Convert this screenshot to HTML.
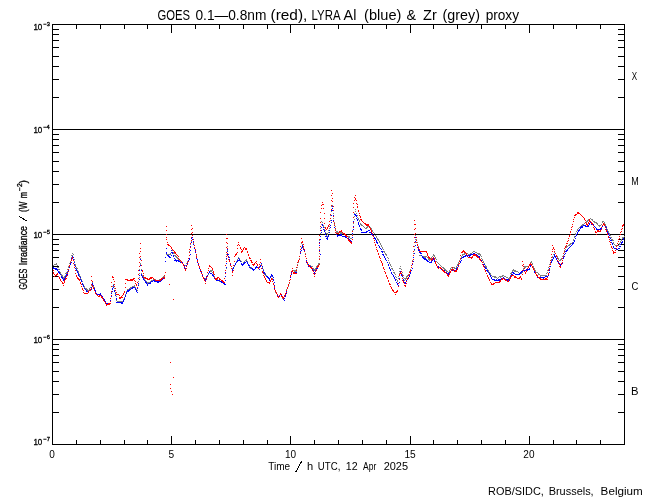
<!DOCTYPE html>
<html><head><meta charset="utf-8"><style>html,body{margin:0;padding:0;background:#fff;width:650px;height:500px;overflow:hidden}svg{display:block;will-change:transform}text{font-family:"Liberation Sans",sans-serif}</style></head>
<body><svg width="650" height="500" viewBox="0 0 650 500">
<rect width="650" height="500" fill="#fff"/>
<g shape-rendering="crispEdges" fill="none" stroke="#000" stroke-width="1">
<rect x="52.5" y="24.5" width="572" height="420"/>
<path d="M76.5 24v5M76.5 445v-5M100.5 24v5M100.5 445v-5M124.5 24v5M124.5 445v-5M147.5 24v5M147.5 445v-5M171.5 24v9M171.5 445v-9M195.5 24v5M195.5 445v-5M219.5 24v5M219.5 445v-5M243.5 24v5M243.5 445v-5M267.5 24v5M267.5 445v-5M290.5 24v9M290.5 445v-9M314.5 24v5M314.5 445v-5M338.5 24v5M338.5 445v-5M362.5 24v5M362.5 445v-5M386.5 24v5M386.5 445v-5M410.5 24v9M410.5 445v-9M433.5 24v5M433.5 445v-5M457.5 24v5M457.5 445v-5M481.5 24v5M481.5 445v-5M505.5 24v5M505.5 445v-5M529.5 24v9M529.5 445v-9M553.5 24v5M553.5 445v-5M576.5 24v5M576.5 445v-5M600.5 24v5M600.5 445v-5M52 97.5h7M625 97.5h-7M52 79.5h7M625 79.5h-7M52 66.5h7M625 66.5h-7M52 56.5h7M625 56.5h-7M52 47.5h7M625 47.5h-7M52 40.5h7M625 40.5h-7M52 34.5h7M625 34.5h-7M52 29.5h7M625 29.5h-7M52 202.5h7M625 202.5h-7M52 184.5h7M625 184.5h-7M52 171.5h7M625 171.5h-7M52 161.5h7M625 161.5h-7M52 152.5h7M625 152.5h-7M52 145.5h7M625 145.5h-7M52 139.5h7M625 139.5h-7M52 134.5h7M625 134.5h-7M52 307.5h7M625 307.5h-7M52 289.5h7M625 289.5h-7M52 276.5h7M625 276.5h-7M52 266.5h7M625 266.5h-7M52 257.5h7M625 257.5h-7M52 250.5h7M625 250.5h-7M52 244.5h7M625 244.5h-7M52 239.5h7M625 239.5h-7M52 412.5h7M625 412.5h-7M52 394.5h7M625 394.5h-7M52 381.5h7M625 381.5h-7M52 371.5h7M625 371.5h-7M52 362.5h7M625 362.5h-7M52 355.5h7M625 355.5h-7M52 349.5h7M625 349.5h-7M52 344.5h7M625 344.5h-7M52 129.5H625M52 234.5H625M52 339.5H625"/>
</g>
<g shape-rendering="crispEdges">
<path fill="#7f7f7f" d="M332 201h1v1h-1zM332 205h1v1h-1zM331 206h1v1h-1zM355 209h1v1h-1zM333 210h1v1h-1zM331 211h1v1h-1zM355 211h1v1h-1zM333 213h1v1h-1zM354 213h1v1h-1zM356 213h1v1h-1zM330 215h1v1h-1zM357 215h1v1h-1zM354 216h1v1h-1zM357 217h1v1h-1zM333 218h1v1h-1zM358 218h1v1h-1zM590 218h1v1h-1zM354 219h1v1h-1zM358 219h1v1h-1zM588 219h2v1h-2zM591 219h2v1h-2zM330 220h1v1h-1zM359 220h1v1h-1zM587 220h3v1h-3zM592 220h1v1h-1zM321 221h1v1h-1zM359 221h1v1h-1zM586 221h2v1h-2zM593 221h2v1h-2zM602 221h2v1h-2zM322 222h1v1h-1zM334 222h1v1h-1zM585 222h2v1h-2zM594 222h3v1h-3zM602 222h1v1h-1zM604 222h1v1h-1zM353 223h1v1h-1zM360 223h1v1h-1zM584 223h1v1h-1zM596 223h2v1h-2zM604 223h1v1h-1zM321 224h2v1h-2zM334 224h1v1h-1zM360 224h2v1h-2zM582 224h2v1h-2zM597 224h1v1h-1zM601 224h1v1h-1zM605 224h1v1h-1zM323 225h1v1h-1zM330 225h1v1h-1zM361 225h2v1h-2zM581 225h2v1h-2zM598 225h3v1h-3zM605 225h1v1h-1zM323 226h1v1h-1zM329 226h1v1h-1zM335 226h1v1h-1zM353 226h1v1h-1zM363 226h1v1h-1zM367 226h3v1h-3zM580 226h1v1h-1zM599 226h1v1h-1zM606 226h1v1h-1zM324 227h1v1h-1zM364 227h1v1h-1zM366 227h2v1h-2zM370 227h1v1h-1zM579 227h2v1h-2zM320 228h1v1h-1zM329 228h1v1h-1zM335 228h1v1h-1zM365 228h2v1h-2zM371 228h1v1h-1zM578 228h1v1h-1zM606 228h1v1h-1zM324 229h1v1h-1zM335 229h1v1h-1zM371 229h1v1h-1zM577 229h1v1h-1zM607 229h1v1h-1zM325 230h1v1h-1zM328 230h1v1h-1zM352 230h1v1h-1zM372 230h1v1h-1zM577 230h1v1h-1zM607 230h1v1h-1zM336 231h2v1h-2zM372 231h1v1h-1zM576 231h1v1h-1zM608 231h1v1h-1zM325 232h1v1h-1zM328 232h1v1h-1zM336 232h6v1h-6zM373 232h1v1h-1zM608 232h1v1h-1zM320 233h1v1h-1zM326 233h2v1h-2zM340 233h4v1h-4zM374 233h1v1h-1zM575 233h1v1h-1zM609 233h1v1h-1zM327 234h1v1h-1zM344 234h2v1h-2zM352 234h1v1h-1zM575 234h1v1h-1zM609 234h1v1h-1zM326 235h1v1h-1zM346 235h1v1h-1zM375 235h1v1h-1zM415 235h1v1h-1zM609 235h2v1h-2zM320 236h1v1h-1zM327 236h1v1h-1zM346 236h4v1h-4zM376 236h1v1h-1zM574 236h1v1h-1zM624 236h1v1h-1zM192 237h1v1h-1zM348 237h2v1h-2zM376 237h1v1h-1zM416 237h1v1h-1zM574 237h1v1h-1zM610 237h2v1h-2zM622 237h2v1h-2zM191 238h1v1h-1zM350 238h2v1h-2zM377 238h1v1h-1zM622 238h1v1h-1zM192 239h1v1h-1zM377 239h2v1h-2zM415 239h2v1h-2zM573 239h1v1h-1zM611 239h2v1h-2zM621 239h1v1h-1zM191 240h1v1h-1zM319 240h1v1h-1zM378 240h1v1h-1zM573 240h1v1h-1zM612 240h2v1h-2zM621 240h1v1h-1zM191 241h1v1h-1zM193 241h1v1h-1zM379 241h1v1h-1zM620 241h1v1h-1zM379 242h1v1h-1zM415 242h1v1h-1zM417 242h1v1h-1zM572 242h1v1h-1zM613 242h1v1h-1zM620 242h1v1h-1zM193 243h1v1h-1zM301 243h1v1h-1zM380 243h1v1h-1zM570 243h2v1h-2zM613 243h1v1h-1zM619 243h1v1h-1zM190 244h1v1h-1zM302 244h1v1h-1zM380 244h1v1h-1zM417 244h1v1h-1zM569 244h2v1h-2zM614 244h1v1h-1zM619 244h1v1h-1zM194 245h1v1h-1zM319 245h1v1h-1zM381 245h1v1h-1zM568 245h2v1h-2zM615 245h4v1h-4zM227 246h1v1h-1zM302 246h1v1h-1zM381 246h1v1h-1zM414 246h1v1h-1zM418 246h1v1h-1zM566 246h2v1h-2zM190 247h1v1h-1zM194 247h1v1h-1zM301 247h1v1h-1zM303 247h1v1h-1zM382 247h1v1h-1zM565 247h2v1h-2zM171 248h1v1h-1zM382 248h1v1h-1zM418 248h1v1h-1zM172 249h1v1h-1zM195 249h1v1h-1zM300 249h1v1h-1zM303 249h1v1h-1zM319 249h1v1h-1zM383 249h1v1h-1zM565 249h1v1h-1zM171 250h2v1h-2zM227 250h1v1h-1zM304 250h1v1h-1zM414 250h1v1h-1zM564 250h1v1h-1zM189 251h1v1h-1zM227 251h1v1h-1zM304 251h1v1h-1zM383 251h2v1h-2zM419 251h1v1h-1zM473 251h2v1h-2zM554 251h1v1h-1zM171 252h1v1h-1zM173 252h1v1h-1zM195 252h1v1h-1zM300 252h1v1h-1zM384 252h1v1h-1zM419 252h1v1h-1zM472 252h1v1h-1zM475 252h2v1h-2zM554 252h1v1h-1zM564 252h1v1h-1zM72 253h1v1h-1zM170 253h1v1h-1zM173 253h2v1h-2zM305 253h1v1h-1zM319 253h1v1h-1zM385 253h1v1h-1zM413 253h1v1h-1zM464 253h4v1h-4zM470 253h2v1h-2zM477 253h3v1h-3zM555 253h1v1h-1zM563 253h1v1h-1zM73 254h1v1h-1zM166 254h5v1h-5zM226 254h1v1h-1zM228 254h1v1h-1zM385 254h2v1h-2zM433 254h1v1h-1zM462 254h3v1h-3zM468 254h3v1h-3zM478 254h3v1h-3zM553 254h1v1h-1zM71 255h2v1h-2zM174 255h2v1h-2zM189 255h1v1h-1zM196 255h1v1h-1zM386 255h1v1h-1zM419 255h3v1h-3zM433 255h2v1h-2zM462 255h1v1h-1zM480 255h1v1h-1zM556 255h1v1h-1zM563 255h1v1h-1zM175 256h2v1h-2zM196 256h1v1h-1zM228 256h1v1h-1zM299 256h1v1h-1zM305 256h1v1h-1zM422 256h5v1h-5zM432 256h1v1h-1zM434 256h1v1h-1zM461 256h1v1h-1zM481 256h1v1h-1zM552 256h1v1h-1zM557 256h1v1h-1zM562 256h1v1h-1zM71 257h1v1h-1zM73 257h1v1h-1zM176 257h2v1h-2zM229 257h1v1h-1zM238 257h1v1h-1zM387 257h1v1h-1zM413 257h1v1h-1zM423 257h3v1h-3zM427 257h1v1h-1zM431 257h1v1h-1zM435 257h1v1h-1zM461 257h1v1h-1zM552 257h1v1h-1zM557 257h1v1h-1zM140 258h1v1h-1zM177 258h2v1h-2zM188 258h1v1h-1zM196 258h1v1h-1zM238 258h2v1h-2zM299 258h1v1h-1zM306 258h1v1h-1zM319 258h1v1h-1zM388 258h1v1h-1zM428 258h1v1h-1zM431 258h1v1h-1zM435 258h1v1h-1zM460 258h1v1h-1zM481 258h1v1h-1zM558 258h1v1h-1zM561 258h2v1h-2zM71 259h1v1h-1zM74 259h1v1h-1zM178 259h2v1h-2zM226 259h1v1h-1zM229 259h1v1h-1zM237 259h1v1h-1zM239 259h1v1h-1zM246 259h1v1h-1zM428 259h3v1h-3zM436 259h1v1h-1zM460 259h1v1h-1zM482 259h1v1h-1zM551 259h1v1h-1zM558 259h1v1h-1zM560 259h2v1h-2zM179 260h2v1h-2zM197 260h1v1h-1zM237 260h1v1h-1zM240 260h1v1h-1zM245 260h2v1h-2zM298 260h1v1h-1zM388 260h1v1h-1zM412 260h1v1h-1zM429 260h1v1h-1zM459 260h1v1h-1zM482 260h1v1h-1zM551 260h1v1h-1zM559 260h2v1h-2zM70 261h1v1h-1zM74 261h1v1h-1zM180 261h2v1h-2zM187 261h2v1h-2zM229 261h1v1h-1zM236 261h1v1h-1zM241 261h1v1h-1zM244 261h1v1h-1zM247 261h1v1h-1zM306 261h1v1h-1zM436 261h1v1h-1zM459 261h1v1h-1zM483 261h1v1h-1zM531 261h1v1h-1zM181 262h1v1h-1zM187 262h1v1h-1zM197 262h1v1h-1zM236 262h1v1h-1zM243 262h2v1h-2zM247 262h1v1h-1zM298 262h1v1h-1zM306 262h1v1h-1zM389 262h1v1h-1zM437 262h1v1h-1zM458 262h1v1h-1zM483 262h1v1h-1zM530 262h2v1h-2zM550 262h1v1h-1zM56 263h1v1h-1zM69 263h1v1h-1zM140 263h1v1h-1zM182 263h1v1h-1zM186 263h1v1h-1zM198 263h1v1h-1zM226 263h1v1h-1zM230 263h1v1h-1zM241 263h1v1h-1zM247 263h1v1h-1zM307 263h1v1h-1zM318 263h2v1h-2zM389 263h1v1h-1zM438 263h1v1h-1zM458 263h1v1h-1zM484 263h1v1h-1zM530 263h1v1h-1zM532 263h1v1h-1zM550 263h1v1h-1zM54 264h3v1h-3zM75 264h1v1h-1zM140 264h1v1h-1zM183 264h1v1h-1zM198 264h1v1h-1zM230 264h1v1h-1zM235 264h1v1h-1zM242 264h2v1h-2zM248 264h1v1h-1zM261 264h1v1h-1zM297 264h1v1h-1zM307 264h1v1h-1zM318 264h1v1h-1zM390 264h1v1h-1zM412 264h1v1h-1zM439 264h1v1h-1zM457 264h1v1h-1zM484 264h1v1h-1zM529 264h1v1h-1zM532 264h1v1h-1zM549 264h1v1h-1zM53 265h1v1h-1zM57 265h1v1h-1zM69 265h1v1h-1zM75 265h1v1h-1zM183 265h3v1h-3zM234 265h1v1h-1zM249 265h1v1h-1zM260 265h2v1h-2zM297 265h1v1h-1zM308 265h3v1h-3zM317 265h1v1h-1zM390 265h1v1h-1zM411 265h1v1h-1zM440 265h1v1h-1zM457 265h1v1h-1zM485 265h1v1h-1zM529 265h1v1h-1zM68 266h1v1h-1zM199 266h1v1h-1zM231 266h1v1h-1zM234 266h1v1h-1zM249 266h1v1h-1zM256 266h1v1h-1zM260 266h1v1h-1zM308 266h1v1h-1zM310 266h3v1h-3zM316 266h2v1h-2zM391 266h1v1h-1zM400 266h1v1h-1zM441 266h1v1h-1zM456 266h1v1h-1zM485 266h2v1h-2zM524 266h5v1h-5zM533 266h1v1h-1zM549 266h1v1h-1zM57 267h2v1h-2zM68 267h1v1h-1zM76 267h1v1h-1zM184 267h1v1h-1zM199 267h1v1h-1zM233 267h1v1h-1zM250 267h2v1h-2zM255 267h1v1h-1zM257 267h1v1h-1zM259 267h1v1h-1zM262 267h1v1h-1zM297 267h1v1h-1zM316 267h1v1h-1zM411 267h1v1h-1zM442 267h2v1h-2zM451 267h4v1h-4zM456 267h1v1h-1zM486 267h1v1h-1zM524 267h2v1h-2zM533 267h1v1h-1zM548 267h1v1h-1zM76 268h2v1h-2zM226 268h1v1h-1zM231 268h3v1h-3zM250 268h2v1h-2zM255 268h1v1h-1zM258 268h1v1h-1zM262 268h1v1h-1zM312 268h2v1h-2zM315 268h1v1h-1zM391 268h2v1h-2zM399 268h2v1h-2zM443 268h2v1h-2zM450 268h1v1h-1zM452 268h1v1h-1zM454 268h2v1h-2zM486 268h1v1h-1zM523 268h1v1h-1zM534 268h1v1h-1zM58 269h2v1h-2zM67 269h1v1h-1zM139 269h1v1h-1zM141 269h1v1h-1zM200 269h1v1h-1zM232 269h1v1h-1zM252 269h3v1h-3zM259 269h1v1h-1zM263 269h1v1h-1zM296 269h1v1h-1zM313 269h3v1h-3zM392 269h1v1h-1zM401 269h1v1h-1zM410 269h1v1h-1zM444 269h2v1h-2zM450 269h1v1h-1zM487 269h1v1h-1zM513 269h1v1h-1zM523 269h1v1h-1zM534 269h1v1h-1zM548 269h1v1h-1zM77 270h1v1h-1zM210 270h3v1h-3zM253 270h1v1h-1zM292 270h4v1h-4zM314 270h1v1h-1zM393 270h1v1h-1zM445 270h2v1h-2zM449 270h1v1h-1zM487 270h2v1h-2zM512 270h4v1h-4zM522 270h1v1h-1zM534 270h2v1h-2zM547 270h1v1h-1zM59 271h1v1h-1zM67 271h1v1h-1zM78 271h1v1h-1zM200 271h1v1h-1zM209 271h3v1h-3zM263 271h1v1h-1zM291 271h1v1h-1zM294 271h3v1h-3zM399 271h1v1h-1zM401 271h1v1h-1zM409 271h1v1h-1zM446 271h2v1h-2zM449 271h1v1h-1zM488 271h1v1h-1zM512 271h1v1h-1zM514 271h4v1h-4zM535 271h1v1h-1zM60 272h1v1h-1zM66 272h1v1h-1zM78 272h1v1h-1zM201 272h1v1h-1zM209 272h1v1h-1zM212 272h1v1h-1zM225 272h1v1h-1zM393 272h2v1h-2zM402 272h1v1h-1zM409 272h1v1h-1zM448 272h1v1h-1zM489 272h1v1h-1zM511 272h1v1h-1zM518 272h1v1h-1zM521 272h2v1h-2zM536 272h2v1h-2zM547 272h1v1h-1zM60 273h1v1h-1zM65 273h2v1h-2zM78 273h1v1h-1zM139 273h1v1h-1zM141 273h1v1h-1zM201 273h1v1h-1zM208 273h1v1h-1zM213 273h1v1h-1zM264 273h2v1h-2zM291 273h1v1h-1zM394 273h1v1h-1zM399 273h1v1h-1zM448 273h1v1h-1zM490 273h1v1h-1zM510 273h2v1h-2zM519 273h3v1h-3zM538 273h1v1h-1zM546 273h1v1h-1zM61 274h1v1h-1zM79 274h1v1h-1zM141 274h1v1h-1zM202 274h1v1h-1zM208 274h1v1h-1zM213 274h1v1h-1zM264 274h1v1h-1zM271 274h1v1h-1zM395 274h1v1h-1zM402 274h1v1h-1zM408 274h1v1h-1zM490 274h1v1h-1zM538 274h2v1h-2zM61 275h2v1h-2zM65 275h1v1h-1zM79 275h1v1h-1zM142 275h1v1h-1zM164 275h1v1h-1zM202 275h1v1h-1zM207 275h1v1h-1zM265 275h2v1h-2zM290 275h1v1h-1zM403 275h1v1h-1zM407 275h2v1h-2zM491 275h1v1h-1zM502 275h2v1h-2zM510 275h1v1h-1zM540 275h7v1h-7zM62 276h1v1h-1zM64 276h1v1h-1zM80 276h1v1h-1zM142 276h2v1h-2zM163 276h2v1h-2zM214 276h1v1h-1zM225 276h1v1h-1zM266 276h1v1h-1zM270 276h2v1h-2zM290 276h1v1h-1zM395 276h1v1h-1zM398 276h1v1h-1zM406 276h2v1h-2zM492 276h4v1h-4zM499 276h4v1h-4zM504 276h2v1h-2zM510 276h1v1h-1zM540 276h1v1h-1zM63 277h2v1h-2zM139 277h1v1h-1zM162 277h2v1h-2zM203 277h1v1h-1zM206 277h1v1h-1zM214 277h1v1h-1zM267 277h1v1h-1zM270 277h1v1h-1zM396 277h1v1h-1zM403 277h1v1h-1zM406 277h1v1h-1zM494 277h3v1h-3zM498 277h1v1h-1zM500 277h1v1h-1zM506 277h2v1h-2zM509 277h1v1h-1zM63 278h1v1h-1zM80 278h1v1h-1zM143 278h2v1h-2zM162 278h1v1h-1zM203 278h3v1h-3zM215 278h1v1h-1zM268 278h2v1h-2zM272 278h1v1h-1zM398 278h1v1h-1zM404 278h3v1h-3zM497 278h1v1h-1zM508 278h2v1h-2zM81 279h1v1h-1zM144 279h1v1h-1zM153 279h3v1h-3zM159 279h3v1h-3zM204 279h2v1h-2zM215 279h3v1h-3zM269 279h1v1h-1zM290 279h1v1h-1zM396 279h1v1h-1zM405 279h1v1h-1zM81 280h1v1h-1zM145 280h1v1h-1zM151 280h2v1h-2zM154 280h5v1h-5zM205 280h1v1h-1zM216 280h1v1h-1zM218 280h1v1h-1zM225 280h1v1h-1zM289 280h1v1h-1zM397 280h1v1h-1zM404 280h1v1h-1zM82 281h1v1h-1zM138 281h1v1h-1zM145 281h2v1h-2zM150 281h1v1h-1zM157 281h1v1h-1zM219 281h3v1h-3zM272 281h1v1h-1zM397 281h1v1h-1zM92 282h1v1h-1zM146 282h4v1h-4zM222 282h2v1h-2zM82 283h1v1h-1zM92 283h1v1h-1zM147 283h1v1h-1zM273 283h1v1h-1zM289 283h1v1h-1zM83 284h1v1h-1zM113 284h1v1h-1zM138 284h1v1h-1zM147 284h1v1h-1zM224 284h2v1h-2zM273 284h1v1h-1zM83 285h1v1h-1zM91 285h1v1h-1zM93 285h1v1h-1zM134 285h1v1h-1zM288 285h1v1h-1zM84 286h1v1h-1zM93 286h1v1h-1zM112 286h2v1h-2zM132 286h3v1h-3zM274 286h1v1h-1zM288 286h1v1h-1zM84 287h1v1h-1zM90 287h2v1h-2zM94 287h1v1h-1zM130 287h3v1h-3zM135 287h1v1h-1zM137 287h1v1h-1zM287 287h1v1h-1zM85 288h2v1h-2zM89 288h1v1h-1zM112 288h1v1h-1zM114 288h1v1h-1zM129 288h2v1h-2zM135 288h1v1h-1zM274 288h1v1h-1zM287 288h1v1h-1zM86 289h2v1h-2zM89 289h1v1h-1zM94 289h1v1h-1zM112 289h1v1h-1zM127 289h3v1h-3zM136 289h1v1h-1zM274 289h1v1h-1zM286 289h1v1h-1zM87 290h2v1h-2zM95 290h1v1h-1zM114 290h1v1h-1zM136 290h2v1h-2zM275 290h1v1h-1zM286 290h1v1h-1zM95 291h1v1h-1zM126 291h1v1h-1zM111 292h1v1h-1zM115 292h1v1h-1zM126 292h1v1h-1zM275 292h2v1h-2zM286 292h1v1h-1zM96 293h1v1h-1zM100 293h1v1h-1zM276 293h1v1h-1zM280 293h1v1h-1zM285 293h1v1h-1zM97 294h4v1h-4zM115 294h1v1h-1zM125 294h1v1h-1zM280 294h2v1h-2zM285 294h1v1h-1zM101 295h1v1h-1zM111 295h1v1h-1zM125 295h1v1h-1zM277 295h1v1h-1zM279 295h1v1h-1zM284 295h1v1h-1zM101 296h2v1h-2zM116 296h1v1h-1zM277 296h2v1h-2zM281 296h2v1h-2zM284 296h1v1h-1zM102 297h1v1h-1zM124 297h1v1h-1zM278 297h1v1h-1zM283 297h1v1h-1zM103 298h1v1h-1zM110 298h1v1h-1zM116 298h1v1h-1zM282 298h2v1h-2zM103 299h2v1h-2zM123 299h1v1h-1zM104 300h1v1h-1zM110 300h1v1h-1zM116 300h1v1h-1zM123 300h1v1h-1zM105 301h1v1h-1zM117 301h6v1h-6zM105 302h1v1h-1zM121 302h2v1h-2zM106 303h5v1h-5z"/>
<path fill="#0000ff" d="M332 206h1v1h-1zM332 208h1v1h-1zM331 210h2v1h-2zM354 214h2v1h-2zM331 215h1v1h-1zM333 215h1v1h-1zM355 215h2v1h-2zM356 216h1v1h-1zM353 217h1v1h-1zM356 218h1v1h-1zM357 219h1v1h-1zM331 220h1v1h-1zM333 220h1v1h-1zM357 220h1v1h-1zM353 221h1v1h-1zM331 222h1v1h-1zM358 222h1v1h-1zM590 222h1v1h-1zM358 223h1v1h-1zM589 223h1v1h-1zM591 223h1v1h-1zM322 224h1v1h-1zM358 224h1v1h-1zM589 224h1v1h-1zM591 224h3v1h-3zM603 224h2v1h-2zM322 225h1v1h-1zM330 225h1v1h-1zM334 225h1v1h-1zM359 225h1v1h-1zM583 225h3v1h-3zM588 225h1v1h-1zM593 225h1v1h-1zM604 225h1v1h-1zM353 226h1v1h-1zM359 226h1v1h-1zM581 226h2v1h-2zM585 226h4v1h-4zM594 226h1v1h-1zM602 226h1v1h-1zM605 226h1v1h-1zM321 227h1v1h-1zM323 227h1v1h-1zM330 227h1v1h-1zM334 227h1v1h-1zM580 227h3v1h-3zM595 227h1v1h-1zM601 227h1v1h-1zM605 227h2v1h-2zM335 228h1v1h-1zM360 228h1v1h-1zM580 228h1v1h-1zM596 228h1v1h-1zM600 228h2v1h-2zM323 229h1v1h-1zM353 229h1v1h-1zM360 229h2v1h-2zM579 229h1v1h-1zM596 229h5v1h-5zM606 229h1v1h-1zM321 230h1v1h-1zM324 230h1v1h-1zM329 230h1v1h-1zM335 230h1v1h-1zM361 230h1v1h-1zM368 230h2v1h-2zM578 230h2v1h-2zM324 231h1v1h-1zM366 231h2v1h-2zM578 231h1v1h-1zM607 231h1v1h-1zM321 232h1v1h-1zM329 232h1v1h-1zM335 232h1v1h-1zM361 232h6v1h-6zM369 232h2v1h-2zM577 232h1v1h-1zM607 232h1v1h-1zM325 233h1v1h-1zM336 233h1v1h-1zM352 233h1v1h-1zM371 233h1v1h-1zM577 233h1v1h-1zM608 233h1v1h-1zM325 234h1v1h-1zM336 234h1v1h-1zM340 234h2v1h-2zM371 234h2v1h-2zM576 234h1v1h-1zM608 234h1v1h-1zM328 235h1v1h-1zM337 235h5v1h-5zM373 235h1v1h-1zM576 235h1v1h-1zM609 235h1v1h-1zM320 236h1v1h-1zM325 236h2v1h-2zM328 236h1v1h-1zM337 236h1v1h-1zM342 236h4v1h-4zM373 236h1v1h-1zM575 236h1v1h-1zM192 237h1v1h-1zM327 237h1v1h-1zM345 237h2v1h-2zM352 237h1v1h-1zM374 237h1v1h-1zM415 237h1v1h-1zM609 237h1v1h-1zM191 238h1v1h-1zM326 238h2v1h-2zM347 238h2v1h-2zM374 238h2v1h-2zM575 238h1v1h-1zM610 238h1v1h-1zM623 238h1v1h-1zM192 239h1v1h-1zM320 239h1v1h-1zM327 239h1v1h-1zM348 239h2v1h-2zM375 239h1v1h-1zM623 239h1v1h-1zM191 240h1v1h-1zM350 240h1v1h-1zM376 240h1v1h-1zM416 240h1v1h-1zM574 240h1v1h-1zM610 240h2v1h-2zM193 241h1v1h-1zM351 241h1v1h-1zM376 241h1v1h-1zM415 241h1v1h-1zM574 241h1v1h-1zM622 241h1v1h-1zM191 242h1v1h-1zM319 242h1v1h-1zM376 242h2v1h-2zM416 242h1v1h-1zM573 242h1v1h-1zM611 242h1v1h-1zM621 242h2v1h-2zM377 243h1v1h-1zM572 243h2v1h-2zM612 243h1v1h-1zM621 243h1v1h-1zM193 244h1v1h-1zM572 244h1v1h-1zM612 244h1v1h-1zM620 244h1v1h-1zM194 245h1v1h-1zM302 245h1v1h-1zM319 245h1v1h-1zM378 245h1v1h-1zM415 245h1v1h-1zM417 245h1v1h-1zM571 245h1v1h-1zM190 246h1v1h-1zM302 246h1v1h-1zM379 246h1v1h-1zM570 246h1v1h-1zM613 246h1v1h-1zM619 246h2v1h-2zM302 247h1v1h-1zM379 247h1v1h-1zM417 247h1v1h-1zM569 247h1v1h-1zM613 247h1v1h-1zM166 248h1v1h-1zM194 248h1v1h-1zM301 248h1v1h-1zM303 248h1v1h-1zM380 248h1v1h-1zM568 248h1v1h-1zM614 248h3v1h-3zM618 248h2v1h-2zM227 249h1v1h-1zM303 249h1v1h-1zM381 249h1v1h-1zM414 249h1v1h-1zM418 249h1v1h-1zM567 249h1v1h-1zM616 249h2v1h-2zM171 250h1v1h-1zM190 250h1v1h-1zM195 250h1v1h-1zM301 250h1v1h-1zM304 250h1v1h-1zM319 250h1v1h-1zM418 250h2v1h-2zM566 250h2v1h-2zM227 251h1v1h-1zM300 251h1v1h-1zM304 251h1v1h-1zM381 251h2v1h-2zM565 251h2v1h-2zM166 252h1v1h-1zM171 252h2v1h-2zM195 252h1v1h-1zM382 252h1v1h-1zM419 252h2v1h-2zM166 253h1v1h-1zM172 253h1v1h-1zM300 253h1v1h-1zM414 253h1v1h-1zM420 253h2v1h-2zM473 253h2v1h-2zM565 253h1v1h-1zM190 254h1v1h-1zM196 254h1v1h-1zM227 254h2v1h-2zM305 254h1v1h-1zM320 254h1v1h-1zM382 254h2v1h-2zM470 254h3v1h-3zM475 254h2v1h-2zM554 254h1v1h-1zM564 254h1v1h-1zM167 255h2v1h-2zM171 255h1v1h-1zM173 255h1v1h-1zM383 255h1v1h-1zM421 255h1v1h-1zM465 255h6v1h-6zM476 255h2v1h-2zM554 255h1v1h-1zM72 256h1v1h-1zM168 256h2v1h-2zM173 256h1v1h-1zM196 256h1v1h-1zM228 256h1v1h-1zM299 256h1v1h-1zM305 256h1v1h-1zM384 256h1v1h-1zM422 256h1v1h-1zM463 256h3v1h-3zM467 256h1v1h-1zM469 256h1v1h-1zM478 256h2v1h-2zM554 256h2v1h-2zM564 256h1v1h-1zM72 257h2v1h-2zM165 257h1v1h-1zM169 257h2v1h-2zM229 257h1v1h-1zM384 257h1v1h-1zM413 257h1v1h-1zM422 257h2v1h-2zM462 257h2v1h-2zM479 257h1v1h-1zM553 257h1v1h-1zM555 257h1v1h-1zM563 257h1v1h-1zM71 258h1v1h-1zM174 258h1v1h-1zM189 258h1v1h-1zM196 258h1v1h-1zM226 258h1v1h-1zM238 258h1v1h-1zM306 258h1v1h-1zM385 258h1v1h-1zM423 258h3v1h-3zM433 258h1v1h-1zM461 258h1v1h-1zM553 258h1v1h-1zM556 258h1v1h-1zM563 258h1v1h-1zM73 259h1v1h-1zM140 259h1v1h-1zM175 259h1v1h-1zM189 259h1v1h-1zM197 259h1v1h-1zM229 259h1v1h-1zM239 259h1v1h-1zM299 259h1v1h-1zM319 259h1v1h-1zM385 259h1v1h-1zM424 259h3v1h-3zM433 259h1v1h-1zM480 259h1v1h-1zM552 259h1v1h-1zM556 259h1v1h-1zM71 260h1v1h-1zM174 260h5v1h-5zM188 260h1v1h-1zM237 260h3v1h-3zM298 260h1v1h-1zM306 260h1v1h-1zM386 260h1v1h-1zM426 260h2v1h-2zM432 260h1v1h-1zM434 260h1v1h-1zM461 260h1v1h-1zM481 260h1v1h-1zM552 260h1v1h-1zM557 260h1v1h-1zM562 260h1v1h-1zM165 261h1v1h-1zM176 261h1v1h-1zM178 261h2v1h-2zM188 261h1v1h-1zM229 261h1v1h-1zM237 261h1v1h-1zM240 261h1v1h-1zM246 261h1v1h-1zM298 261h1v1h-1zM413 261h1v1h-1zM427 261h2v1h-2zM431 261h1v1h-1zM434 261h2v1h-2zM460 261h1v1h-1zM481 261h1v1h-1zM551 261h1v1h-1zM557 261h1v1h-1zM71 262h1v1h-1zM74 262h1v1h-1zM180 262h3v1h-3zM197 262h1v1h-1zM236 262h1v1h-1zM244 262h2v1h-2zM247 262h1v1h-1zM297 262h1v1h-1zM306 262h1v1h-1zM387 262h1v1h-1zM429 262h3v1h-3zM460 262h1v1h-1zM482 262h1v1h-1zM551 262h1v1h-1zM558 262h1v1h-1zM562 262h1v1h-1zM70 263h1v1h-1zM182 263h1v1h-1zM187 263h1v1h-1zM198 263h1v1h-1zM226 263h1v1h-1zM230 263h1v1h-1zM235 263h1v1h-1zM241 263h1v1h-1zM243 263h2v1h-2zM247 263h1v1h-1zM261 263h1v1h-1zM307 263h1v1h-1zM435 263h1v1h-1zM459 263h1v1h-1zM559 263h1v1h-1zM561 263h2v1h-2zM70 264h1v1h-1zM74 264h1v1h-1zM183 264h1v1h-1zM187 264h1v1h-1zM198 264h1v1h-1zM230 264h1v1h-1zM235 264h1v1h-1zM241 264h3v1h-3zM248 264h1v1h-1zM308 264h1v1h-1zM319 264h1v1h-1zM388 264h1v1h-1zM412 264h1v1h-1zM436 264h1v1h-1zM483 264h2v1h-2zM531 264h1v1h-1zM550 264h1v1h-1zM559 264h3v1h-3zM140 265h1v1h-1zM184 265h1v1h-1zM186 265h1v1h-1zM234 265h1v1h-1zM242 265h1v1h-1zM248 265h2v1h-2zM260 265h2v1h-2zM297 265h1v1h-1zM318 265h1v1h-1zM388 265h1v1h-1zM436 265h1v1h-1zM458 265h1v1h-1zM530 265h2v1h-2zM560 265h1v1h-1zM69 266h1v1h-1zM75 266h1v1h-1zM186 266h1v1h-1zM199 266h1v1h-1zM231 266h1v1h-1zM256 266h1v1h-1zM260 266h1v1h-1zM262 266h1v1h-1zM308 266h3v1h-3zM317 266h1v1h-1zM437 266h2v1h-2zM458 266h1v1h-1zM484 266h1v1h-1zM530 266h1v1h-1zM532 266h1v1h-1zM550 266h1v1h-1zM53 267h1v1h-1zM69 267h1v1h-1zM184 267h1v1h-1zM226 267h1v1h-1zM233 267h1v1h-1zM249 267h2v1h-2zM255 267h5v1h-5zM296 267h1v1h-1zM310 267h1v1h-1zM389 267h1v1h-1zM438 267h2v1h-2zM457 267h1v1h-1zM484 267h2v1h-2zM532 267h1v1h-1zM53 268h4v1h-4zM75 268h1v1h-1zM185 268h1v1h-1zM199 268h1v1h-1zM231 268h1v1h-1zM233 268h1v1h-1zM251 268h2v1h-2zM255 268h1v1h-1zM258 268h1v1h-1zM262 268h1v1h-1zM311 268h2v1h-2zM316 268h2v1h-2zM389 268h1v1h-1zM412 268h1v1h-1zM440 268h2v1h-2zM456 268h1v1h-1zM485 268h2v1h-2zM529 268h1v1h-1zM533 268h1v1h-1zM549 268h1v1h-1zM55 269h3v1h-3zM68 269h1v1h-1zM76 269h1v1h-1zM200 269h1v1h-1zM232 269h1v1h-1zM252 269h3v1h-3zM259 269h1v1h-1zM312 269h1v1h-1zM316 269h1v1h-1zM390 269h1v1h-1zM441 269h2v1h-2zM456 269h1v1h-1zM526 269h4v1h-4zM533 269h1v1h-1zM57 270h1v1h-1zM68 270h1v1h-1zM76 270h1v1h-1zM139 270h1v1h-1zM141 270h1v1h-1zM200 270h1v1h-1zM232 270h1v1h-1zM253 270h1v1h-1zM263 270h1v1h-1zM292 270h1v1h-1zM296 270h1v1h-1zM313 270h1v1h-1zM315 270h1v1h-1zM390 270h1v1h-1zM411 270h1v1h-1zM442 270h3v1h-3zM451 270h5v1h-5zM486 270h2v1h-2zM523 270h5v1h-5zM549 270h1v1h-1zM58 271h1v1h-1zM77 271h1v1h-1zM209 271h1v1h-1zM292 271h1v1h-1zM313 271h1v1h-1zM315 271h1v1h-1zM400 271h1v1h-1zM444 271h1v1h-1zM450 271h1v1h-1zM454 271h2v1h-2zM487 271h1v1h-1zM521 271h2v1h-2zM534 271h1v1h-1zM58 272h2v1h-2zM67 272h1v1h-1zM77 272h1v1h-1zM201 272h1v1h-1zM209 272h1v1h-1zM225 272h1v1h-1zM263 272h2v1h-2zM291 272h1v1h-1zM293 272h4v1h-4zM314 272h1v1h-1zM391 272h1v1h-1zM410 272h1v1h-1zM445 272h2v1h-2zM449 272h1v1h-1zM488 272h1v1h-1zM512 272h2v1h-2zM520 272h2v1h-2zM534 272h1v1h-1zM549 272h1v1h-1zM59 273h1v1h-1zM78 273h1v1h-1zM201 273h1v1h-1zM208 273h1v1h-1zM210 273h2v1h-2zM264 273h1v1h-1zM294 273h1v1h-1zM314 273h1v1h-1zM391 273h1v1h-1zM400 273h1v1h-1zM410 273h1v1h-1zM447 273h2v1h-2zM489 273h1v1h-1zM513 273h2v1h-2zM519 273h2v1h-2zM535 273h1v1h-1zM60 274h1v1h-1zM66 274h2v1h-2zM78 274h1v1h-1zM141 274h1v1h-1zM202 274h1v1h-1zM212 274h1v1h-1zM265 274h1v1h-1zM271 274h1v1h-1zM291 274h1v1h-1zM392 274h1v1h-1zM401 274h1v1h-1zM448 274h1v1h-1zM489 274h1v1h-1zM511 274h2v1h-2zM515 274h5v1h-5zM536 274h1v1h-1zM548 274h1v1h-1zM66 275h1v1h-1zM78 275h1v1h-1zM139 275h1v1h-1zM141 275h1v1h-1zM202 275h1v1h-1zM207 275h1v1h-1zM212 275h2v1h-2zM271 275h2v1h-2zM290 275h1v1h-1zM393 275h1v1h-1zM399 275h1v1h-1zM401 275h1v1h-1zM409 275h1v1h-1zM490 275h1v1h-1zM511 275h1v1h-1zM536 275h2v1h-2zM548 275h1v1h-1zM61 276h1v1h-1zM65 276h1v1h-1zM79 276h1v1h-1zM142 276h1v1h-1zM206 276h1v1h-1zM213 276h1v1h-1zM225 276h1v1h-1zM266 276h2v1h-2zM270 276h1v1h-1zM272 276h1v1h-1zM393 276h1v1h-1zM402 276h1v1h-1zM409 276h1v1h-1zM490 276h1v1h-1zM510 276h1v1h-1zM545 276h3v1h-3zM61 277h2v1h-2zM65 277h1v1h-1zM80 277h1v1h-1zM142 277h1v1h-1zM163 277h2v1h-2zM203 277h1v1h-1zM214 277h1v1h-1zM267 277h2v1h-2zM270 277h1v1h-1zM273 277h1v1h-1zM290 277h1v1h-1zM394 277h1v1h-1zM491 277h1v1h-1zM503 277h1v1h-1zM510 277h1v1h-1zM537 277h8v1h-8zM62 278h1v1h-1zM64 278h1v1h-1zM143 278h1v1h-1zM162 278h2v1h-2zM204 278h1v1h-1zM206 278h1v1h-1zM214 278h2v1h-2zM268 278h2v1h-2zM394 278h1v1h-1zM399 278h1v1h-1zM402 278h1v1h-1zM408 278h1v1h-1zM491 278h1v1h-1zM501 278h4v1h-4zM510 278h1v1h-1zM539 278h1v1h-1zM543 278h1v1h-1zM63 279h2v1h-2zM80 279h1v1h-1zM139 279h1v1h-1zM143 279h1v1h-1zM162 279h1v1h-1zM204 279h2v1h-2zM215 279h2v1h-2zM269 279h1v1h-1zM273 279h1v1h-1zM290 279h1v1h-1zM395 279h1v1h-1zM403 279h1v1h-1zM407 279h1v1h-1zM492 279h3v1h-3zM496 279h1v1h-1zM498 279h4v1h-4zM504 279h6v1h-6zM63 280h1v1h-1zM81 280h1v1h-1zM144 280h1v1h-1zM153 280h3v1h-3zM159 280h3v1h-3zM205 280h1v1h-1zM216 280h4v1h-4zM225 280h1v1h-1zM269 280h1v1h-1zM273 280h1v1h-1zM289 280h1v1h-1zM395 280h1v1h-1zM403 280h1v1h-1zM406 280h1v1h-1zM494 280h6v1h-6zM507 280h3v1h-3zM81 281h1v1h-1zM145 281h1v1h-1zM151 281h2v1h-2zM154 281h7v1h-7zM220 281h2v1h-2zM406 281h1v1h-1zM145 282h2v1h-2zM150 282h1v1h-1zM157 282h2v1h-2zM221 282h2v1h-2zM274 282h1v1h-1zM289 282h1v1h-1zM396 282h1v1h-1zM399 282h1v1h-1zM404 282h2v1h-2zM82 283h1v1h-1zM92 283h1v1h-1zM138 283h1v1h-1zM146 283h1v1h-1zM148 283h3v1h-3zM223 283h2v1h-2zM397 283h1v1h-1zM404 283h2v1h-2zM82 284h1v1h-1zM92 284h1v1h-1zM147 284h1v1h-1zM224 284h2v1h-2zM288 284h1v1h-1zM397 284h1v1h-1zM83 285h1v1h-1zM92 285h2v1h-2zM113 285h1v1h-1zM138 285h1v1h-1zM147 285h1v1h-1zM274 285h1v1h-1zM288 285h1v1h-1zM398 285h1v1h-1zM83 286h1v1h-1zM91 287h1v1h-1zM93 287h1v1h-1zM113 287h1v1h-1zM132 287h3v1h-3zM287 287h1v1h-1zM84 288h1v1h-1zM94 288h1v1h-1zM112 288h1v1h-1zM131 288h2v1h-2zM135 288h1v1h-1zM137 288h1v1h-1zM274 288h1v1h-1zM287 288h1v1h-1zM85 289h1v1h-1zM90 289h2v1h-2zM94 289h1v1h-1zM112 289h1v1h-1zM129 289h2v1h-2zM135 289h1v1h-1zM274 289h1v1h-1zM86 290h1v1h-1zM89 290h1v1h-1zM95 290h1v1h-1zM114 290h1v1h-1zM127 290h3v1h-3zM136 290h1v1h-1zM275 290h1v1h-1zM286 290h1v1h-1zM86 291h3v1h-3zM95 291h1v1h-1zM112 291h1v1h-1zM114 291h1v1h-1zM127 291h2v1h-2zM136 291h1v1h-1zM275 291h1v1h-1zM286 291h1v1h-1zM88 292h1v1h-1zM126 292h1v1h-1zM137 292h1v1h-1zM276 292h1v1h-1zM96 293h1v1h-1zM100 293h1v1h-1zM111 293h1v1h-1zM115 293h1v1h-1zM126 293h1v1h-1zM276 293h1v1h-1zM280 293h1v1h-1zM286 293h1v1h-1zM97 294h4v1h-4zM280 294h2v1h-2zM101 295h1v1h-1zM115 295h1v1h-1zM125 295h1v1h-1zM277 295h1v1h-1zM279 295h1v1h-1zM281 295h1v1h-1zM285 295h1v1h-1zM101 296h2v1h-2zM111 296h1v1h-1zM125 296h1v1h-1zM278 296h2v1h-2zM282 296h1v1h-1zM285 296h1v1h-1zM102 297h1v1h-1zM278 297h1v1h-1zM282 297h1v1h-1zM103 298h1v1h-1zM110 298h1v1h-1zM116 298h1v1h-1zM124 298h1v1h-1zM283 298h2v1h-2zM103 299h2v1h-2zM116 299h1v1h-1zM124 299h1v1h-1zM283 299h1v1h-1zM104 300h1v1h-1zM110 300h1v1h-1zM123 300h1v1h-1zM284 300h1v1h-1zM105 301h1v1h-1zM123 301h1v1h-1zM105 302h1v1h-1zM116 302h7v1h-7zM106 303h5v1h-5zM121 303h2v1h-2z"/>
<path fill="#ff0000" d="M331 190h1v1h-1zM332 193h1v1h-1zM331 195h1v1h-1zM355 195h1v1h-1zM354 197h1v1h-1zM332 198h1v1h-1zM355 198h1v1h-1zM355 199h1v1h-1zM331 200h1v1h-1zM354 200h1v1h-1zM356 200h1v1h-1zM332 201h1v1h-1zM322 202h1v1h-1zM353 203h1v1h-1zM356 203h1v1h-1zM322 204h2v1h-2zM357 204h1v1h-1zM321 205h1v1h-1zM331 205h1v1h-1zM333 206h1v1h-1zM357 206h1v1h-1zM353 207h1v1h-1zM357 207h1v1h-1zM321 208h1v1h-1zM323 208h1v1h-1zM331 209h1v1h-1zM333 210h1v1h-1zM358 210h1v1h-1zM358 211h1v1h-1zM320 212h1v1h-1zM353 212h1v1h-1zM577 212h2v1h-2zM324 213h1v1h-1zM359 213h1v1h-1zM577 213h3v1h-3zM330 214h1v1h-1zM575 214h2v1h-2zM580 214h1v1h-1zM359 215h1v1h-1zM574 215h2v1h-2zM581 215h1v1h-1zM333 216h1v1h-1zM360 216h1v1h-1zM582 216h1v1h-1zM353 217h1v1h-1zM360 217h1v1h-1zM574 217h1v1h-1zM583 217h1v1h-1zM320 218h1v1h-1zM324 218h1v1h-1zM330 218h1v1h-1zM584 218h1v1h-1zM360 219h2v1h-2zM573 219h1v1h-1zM584 219h1v1h-1zM589 219h1v1h-1zM361 220h1v1h-1zM414 220h1v1h-1zM585 220h1v1h-1zM589 220h1v1h-1zM329 221h1v1h-1zM333 221h1v1h-1zM362 221h1v1h-1zM573 221h1v1h-1zM589 221h2v1h-2zM320 222h1v1h-1zM353 222h1v1h-1zM363 222h1v1h-1zM585 222h1v1h-1zM588 222h1v1h-1zM591 222h1v1h-1zM324 223h1v1h-1zM334 223h1v1h-1zM364 223h2v1h-2zM586 223h1v1h-1zM588 223h1v1h-1zM591 223h2v1h-2zM603 223h1v1h-1zM329 224h1v1h-1zM365 224h4v1h-4zM414 224h2v1h-2zM572 224h1v1h-1zM586 224h2v1h-2zM592 224h1v1h-1zM603 224h2v1h-2zM623 224h1v1h-1zM191 225h1v1h-1zM328 225h1v1h-1zM334 225h1v1h-1zM366 225h3v1h-3zM587 225h1v1h-1zM593 225h1v1h-1zM602 225h1v1h-1zM604 225h1v1h-1zM622 225h2v1h-2zM166 226h1v1h-1zM320 226h1v1h-1zM328 226h1v1h-1zM369 226h1v1h-1zM572 226h1v1h-1zM622 226h1v1h-1zM325 227h1v1h-1zM327 227h1v1h-1zM353 227h1v1h-1zM369 227h1v1h-1zM571 227h1v1h-1zM593 227h1v1h-1zM601 227h1v1h-1zM605 227h1v1h-1zM192 228h1v1h-1zM325 228h1v1h-1zM327 228h1v1h-1zM335 228h1v1h-1zM370 228h1v1h-1zM415 228h1v1h-1zM594 228h1v1h-1zM622 228h1v1h-1zM191 229h1v1h-1zM326 229h1v1h-1zM370 229h1v1h-1zM414 229h1v1h-1zM571 229h1v1h-1zM594 229h1v1h-1zM601 229h1v1h-1zM605 229h1v1h-1zM621 229h1v1h-1zM166 230h1v1h-1zM320 230h1v1h-1zM335 230h1v1h-1zM341 230h1v1h-1zM371 230h1v1h-1zM597 230h2v1h-2zM600 230h1v1h-1zM606 230h1v1h-1zM339 231h3v1h-3zM352 231h1v1h-1zM371 231h1v1h-1zM570 231h1v1h-1zM595 231h1v1h-1zM597 231h4v1h-4zM606 231h1v1h-1zM621 231h1v1h-1zM192 232h1v1h-1zM335 232h1v1h-1zM339 232h1v1h-1zM342 232h1v1h-1zM371 232h1v1h-1zM570 232h1v1h-1zM595 232h2v1h-2zM620 232h1v1h-1zM191 233h1v1h-1zM336 233h3v1h-3zM343 233h2v1h-2zM372 233h1v1h-1zM415 233h1v1h-1zM607 233h1v1h-1zM166 234h1v1h-1zM226 234h1v1h-1zM344 234h2v1h-2zM414 234h1v1h-1zM570 234h1v1h-1zM596 234h1v1h-1zM607 234h1v1h-1zM620 234h1v1h-1zM192 235h1v1h-1zM319 235h1v1h-1zM345 235h2v1h-2zM352 235h1v1h-1zM372 235h1v1h-1zM569 235h1v1h-1zM346 236h2v1h-2zM373 236h1v1h-1zM569 236h1v1h-1zM608 236h1v1h-1zM619 236h1v1h-1zM166 237h1v1h-1zM191 237h1v1h-1zM414 237h1v1h-1zM416 237h1v1h-1zM608 237h1v1h-1zM226 238h2v1h-2zM301 238h1v1h-1zM347 238h1v1h-1zM373 238h1v1h-1zM568 238h1v1h-1zM619 238h1v1h-1zM166 239h1v1h-1zM193 239h1v1h-1zM319 239h1v1h-1zM348 239h1v1h-1zM352 239h1v1h-1zM609 239h1v1h-1zM618 239h1v1h-1zM191 240h1v1h-1zM348 240h2v1h-2zM374 240h1v1h-1zM416 240h1v1h-1zM568 240h1v1h-1zM302 241h1v1h-1zM349 241h2v1h-2zM567 241h1v1h-1zM609 241h1v1h-1zM618 241h1v1h-1zM167 242h1v1h-1zM193 242h1v1h-1zM226 242h1v1h-1zM238 242h1v1h-1zM301 242h2v1h-2zM350 242h2v1h-2zM374 242h1v1h-1zM414 242h1v1h-1zM416 242h1v1h-1zM610 242h1v1h-1zM140 243h1v1h-1zM190 243h1v1h-1zM227 243h1v1h-1zM319 243h1v1h-1zM351 243h1v1h-1zM566 243h2v1h-2zM617 243h1v1h-1zM167 244h2v1h-2zM238 244h1v1h-1zM303 244h1v1h-1zM375 244h1v1h-1zM417 244h1v1h-1zM610 244h1v1h-1zM168 245h2v1h-2zM194 245h1v1h-1zM237 245h1v1h-1zM239 245h1v1h-1zM375 245h1v1h-1zM417 245h1v1h-1zM552 245h1v1h-1zM566 245h1v1h-1zM617 245h1v1h-1zM170 246h1v1h-1zM300 246h1v1h-1zM303 246h1v1h-1zM413 246h1v1h-1zM565 246h1v1h-1zM611 246h1v1h-1zM616 246h1v1h-1zM171 247h1v1h-1zM190 247h1v1h-1zM194 247h1v1h-1zM226 247h1v1h-1zM240 247h1v1h-1zM244 247h1v1h-1zM319 247h1v1h-1zM376 247h1v1h-1zM418 247h1v1h-1zM553 247h1v1h-1zM565 247h1v1h-1zM611 247h1v1h-1zM140 248h1v1h-1zM171 248h1v1h-1zM227 248h1v1h-1zM237 248h1v1h-1zM240 248h1v1h-1zM243 248h1v1h-1zM245 248h2v1h-2zM303 248h1v1h-1zM418 248h1v1h-1zM553 248h1v1h-1zM564 248h1v1h-1zM612 248h1v1h-1zM616 248h1v1h-1zM172 249h1v1h-1zM189 249h1v1h-1zM195 249h1v1h-1zM241 249h1v1h-1zM243 249h1v1h-1zM245 249h2v1h-2zM300 249h1v1h-1zM304 249h1v1h-1zM376 249h1v1h-1zM419 249h1v1h-1zM552 249h1v1h-1zM554 249h1v1h-1zM173 250h1v1h-1zM242 250h1v1h-1zM377 250h1v1h-1zM463 250h1v1h-1zM612 250h1v1h-1zM615 250h1v1h-1zM140 251h1v1h-1zM174 251h1v1h-1zM195 251h1v1h-1zM241 251h2v1h-2zM247 251h1v1h-1zM304 251h1v1h-1zM319 251h1v1h-1zM377 251h1v1h-1zM413 251h1v1h-1zM419 251h8v1h-8zM462 251h3v1h-3zM552 251h1v1h-1zM554 251h1v1h-1zM564 251h1v1h-1zM613 251h1v1h-1zM174 252h2v1h-2zM189 252h1v1h-1zM226 252h1v1h-1zM237 252h1v1h-1zM241 252h1v1h-1zM247 252h1v1h-1zM300 252h1v1h-1zM426 252h1v1h-1zM461 252h2v1h-2zM464 252h2v1h-2zM613 252h3v1h-3zM139 253h1v1h-1zM175 253h1v1h-1zM227 253h1v1h-1zM236 253h1v1h-1zM378 253h1v1h-1zM427 253h1v1h-1zM466 253h1v1h-1zM555 253h1v1h-1zM563 253h1v1h-1zM613 253h1v1h-1zM176 254h1v1h-1zM196 254h1v1h-1zM235 254h2v1h-2zM248 254h1v1h-1zM305 254h1v1h-1zM378 254h1v1h-1zM427 254h1v1h-1zM466 254h1v1h-1zM473 254h3v1h-3zM551 254h1v1h-1zM177 255h1v1h-1zM189 255h1v1h-1zM227 255h1v1h-1zM235 255h1v1h-1zM248 255h1v1h-1zM413 255h1v1h-1zM427 255h1v1h-1zM460 255h1v1h-1zM467 255h1v1h-1zM473 255h4v1h-4zM556 255h1v1h-1zM140 256h1v1h-1zM178 256h1v1h-1zM196 256h1v1h-1zM226 256h1v1h-1zM234 256h1v1h-1zM299 256h1v1h-1zM305 256h1v1h-1zM319 256h1v1h-1zM379 256h1v1h-1zM428 256h1v1h-1zM472 256h1v1h-1zM476 256h2v1h-2zM556 256h1v1h-1zM563 256h1v1h-1zM72 257h1v1h-1zM139 257h1v1h-1zM196 257h1v1h-1zM228 257h1v1h-1zM249 257h1v1h-1zM379 257h1v1h-1zM428 257h2v1h-2zM433 257h1v1h-1zM468 257h5v1h-5zM477 257h2v1h-2zM551 257h1v1h-1zM72 258h1v1h-1zM178 258h1v1h-1zM188 258h1v1h-1zM249 258h2v1h-2zM306 258h1v1h-1zM380 258h1v1h-1zM429 258h2v1h-2zM432 258h1v1h-1zM434 258h1v1h-1zM460 258h1v1h-1zM471 258h1v1h-1zM479 258h1v1h-1zM557 258h1v1h-1zM562 258h1v1h-1zM71 259h1v1h-1zM179 259h1v1h-1zM228 259h1v1h-1zM260 259h1v1h-1zM299 259h1v1h-1zM319 259h1v1h-1zM413 259h1v1h-1zM431 259h2v1h-2zM434 259h1v1h-1zM479 259h2v1h-2zM71 260h1v1h-1zM73 260h1v1h-1zM141 260h1v1h-1zM180 260h1v1h-1zM197 260h1v1h-1zM229 260h1v1h-1zM250 260h2v1h-2zM298 260h1v1h-1zM380 260h1v1h-1zM431 260h1v1h-1zM480 260h1v1h-1zM550 260h1v1h-1zM557 260h1v1h-1zM562 260h1v1h-1zM181 261h1v1h-1zM188 261h1v1h-1zM197 261h1v1h-1zM226 261h1v1h-1zM229 261h1v1h-1zM234 261h1v1h-1zM251 261h1v1h-1zM256 261h1v1h-1zM298 261h1v1h-1zM306 261h1v1h-1zM381 261h1v1h-1zM412 261h1v1h-1zM435 261h1v1h-1zM459 261h1v1h-1zM481 261h1v1h-1zM522 261h1v1h-1zM558 261h1v1h-1zM70 262h1v1h-1zM139 262h1v1h-1zM181 262h1v1h-1zM187 262h1v1h-1zM251 262h2v1h-2zM255 262h1v1h-1zM260 262h1v1h-1zM297 262h1v1h-1zM307 262h1v1h-1zM381 262h1v1h-1zM435 262h1v1h-1zM482 262h1v1h-1zM550 262h1v1h-1zM562 262h1v1h-1zM73 263h1v1h-1zM182 263h1v1h-1zM198 263h1v1h-1zM230 263h1v1h-1zM254 263h1v1h-1zM256 263h1v1h-1zM307 263h1v1h-1zM382 263h1v1h-1zM412 263h1v1h-1zM435 263h1v1h-1zM459 263h1v1h-1zM530 263h1v1h-1zM558 263h1v1h-1zM561 263h1v1h-1zM183 264h1v1h-1zM187 264h1v1h-1zM252 264h3v1h-3zM257 264h1v1h-1zM259 264h1v1h-1zM319 264h1v1h-1zM382 264h1v1h-1zM436 264h1v1h-1zM458 264h1v1h-1zM482 264h1v1h-1zM523 264h1v1h-1zM529 264h3v1h-3zM550 264h1v1h-1zM559 264h1v1h-1zM561 264h1v1h-1zM69 265h1v1h-1zM74 265h1v1h-1zM141 265h1v1h-1zM183 265h1v1h-1zM198 265h1v1h-1zM209 265h1v1h-1zM225 265h1v1h-1zM230 265h1v1h-1zM233 265h1v1h-1zM253 265h1v1h-1zM257 265h1v1h-1zM261 265h1v1h-1zM297 265h1v1h-1zM308 265h2v1h-2zM318 265h1v1h-1zM382 265h1v1h-1zM411 265h1v1h-1zM436 265h1v1h-1zM483 265h1v1h-1zM522 265h1v1h-1zM529 265h1v1h-1zM531 265h1v1h-1zM69 266h1v1h-1zM139 266h1v1h-1zM184 266h1v1h-1zM186 266h1v1h-1zM199 266h1v1h-1zM209 266h2v1h-2zM231 266h1v1h-1zM259 266h1v1h-1zM309 266h1v1h-1zM317 266h2v1h-2zM437 266h1v1h-1zM458 266h1v1h-1zM483 266h1v1h-1zM523 266h1v1h-1zM528 266h1v1h-1zM532 266h1v1h-1zM549 266h1v1h-1zM559 266h2v1h-2zM74 267h1v1h-1zM199 267h1v1h-1zM211 267h1v1h-1zM258 267h1v1h-1zM296 267h1v1h-1zM310 267h2v1h-2zM317 267h1v1h-1zM383 267h1v1h-1zM411 267h1v1h-1zM437 267h1v1h-1zM439 267h2v1h-2zM452 267h1v1h-1zM484 267h1v1h-1zM528 267h1v1h-1zM532 267h1v1h-1zM560 267h1v1h-1zM184 268h1v1h-1zM186 268h1v1h-1zM208 268h1v1h-1zM212 268h1v1h-1zM231 268h1v1h-1zM258 268h1v1h-1zM261 268h1v1h-1zM292 268h1v1h-1zM311 268h2v1h-2zM383 268h1v1h-1zM438 268h1v1h-1zM440 268h2v1h-2zM457 268h1v1h-1zM524 268h1v1h-1zM527 268h1v1h-1zM533 268h1v1h-1zM68 269h1v1h-1zM185 269h1v1h-1zM200 269h1v1h-1zM212 269h1v1h-1zM316 269h1v1h-1zM384 269h1v1h-1zM442 269h1v1h-1zM451 269h3v1h-3zM457 269h1v1h-1zM484 269h1v1h-1zM533 269h1v1h-1zM549 269h1v1h-1zM53 270h1v1h-1zM75 270h1v1h-1zM138 270h1v1h-1zM142 270h1v1h-1zM185 270h1v1h-1zM208 270h1v1h-1zM225 270h1v1h-1zM233 270h1v1h-1zM292 270h1v1h-1zM296 270h1v1h-1zM312 270h1v1h-1zM316 270h1v1h-1zM410 270h1v1h-1zM442 270h2v1h-2zM451 270h1v1h-1zM453 270h1v1h-1zM455 270h2v1h-2zM485 270h1v1h-1zM522 270h1v1h-1zM526 270h1v1h-1zM534 270h1v1h-1zM548 270h1v1h-1zM68 271h1v1h-1zM142 271h1v1h-1zM200 271h2v1h-2zM213 271h1v1h-1zM232 271h1v1h-1zM262 271h1v1h-1zM291 271h2v1h-2zM313 271h1v1h-1zM315 271h1v1h-1zM384 271h1v1h-1zM401 271h1v1h-1zM410 271h1v1h-1zM443 271h2v1h-2zM450 271h1v1h-1zM454 271h3v1h-3zM485 271h1v1h-1zM524 271h1v1h-1zM526 271h1v1h-1zM53 272h1v1h-1zM165 272h1v1h-1zM207 272h1v1h-1zM213 272h1v1h-1zM232 272h1v1h-1zM262 272h1v1h-1zM293 272h2v1h-2zM385 272h1v1h-1zM400 272h1v1h-1zM409 272h1v1h-1zM444 272h2v1h-2zM450 272h1v1h-1zM525 272h1v1h-1zM535 272h1v1h-1zM53 273h1v1h-1zM57 273h1v1h-1zM67 273h1v1h-1zM75 273h1v1h-1zM143 273h1v1h-1zM201 273h1v1h-1zM213 273h1v1h-1zM225 273h1v1h-1zM263 273h1v1h-1zM291 273h1v1h-1zM293 273h4v1h-4zM313 273h1v1h-1zM315 273h1v1h-1zM385 273h1v1h-1zM400 273h2v1h-2zM446 273h1v1h-1zM449 273h1v1h-1zM486 273h1v1h-1zM525 273h1v1h-1zM535 273h1v1h-1zM548 273h1v1h-1zM54 274h1v1h-1zM56 274h2v1h-2zM138 274h1v1h-1zM202 274h1v1h-1zM214 274h1v1h-1zM314 274h1v1h-1zM399 274h1v1h-1zM409 274h1v1h-1zM447 274h1v1h-1zM449 274h1v1h-1zM522 274h1v1h-1zM536 274h1v1h-1zM548 274h1v1h-1zM55 275h2v1h-2zM67 275h1v1h-1zM76 275h1v1h-1zM143 275h1v1h-1zM164 275h1v1h-1zM232 275h1v1h-1zM263 275h1v1h-1zM290 275h1v1h-1zM386 275h1v1h-1zM399 275h1v1h-1zM402 275h1v1h-1zM408 275h1v1h-1zM447 275h2v1h-2zM487 275h1v1h-1zM511 275h3v1h-3zM536 275h2v1h-2zM54 276h1v1h-1zM58 276h1v1h-1zM66 276h1v1h-1zM76 276h1v1h-1zM91 276h1v1h-1zM112 276h1v1h-1zM202 276h1v1h-1zM207 276h1v1h-1zM264 276h1v1h-1zM290 276h1v1h-1zM314 276h1v1h-1zM386 276h1v1h-1zM448 276h1v1h-1zM487 276h1v1h-1zM511 276h1v1h-1zM514 276h2v1h-2zM520 276h1v1h-1zM537 276h1v1h-1zM59 277h1v1h-1zM77 277h1v1h-1zM112 277h2v1h-2zM143 277h3v1h-3zM150 277h3v1h-3zM163 277h2v1h-2zM203 277h1v1h-1zM206 277h1v1h-1zM214 277h1v1h-1zM217 277h2v1h-2zM264 277h1v1h-1zM387 277h1v1h-1zM408 277h1v1h-1zM488 277h1v1h-1zM510 277h1v1h-1zM514 277h3v1h-3zM519 277h2v1h-2zM538 277h2v1h-2zM547 277h1v1h-1zM59 278h1v1h-1zM65 278h2v1h-2zM77 278h2v1h-2zM133 278h2v1h-2zM138 278h1v1h-1zM145 278h3v1h-3zM149 278h3v1h-3zM153 278h1v1h-1zM161 278h2v1h-2zM164 278h1v1h-1zM203 278h1v1h-1zM215 278h3v1h-3zM219 278h1v1h-1zM224 278h1v1h-1zM265 278h1v1h-1zM271 278h1v1h-1zM387 278h1v1h-1zM402 278h1v1h-1zM407 278h1v1h-1zM488 278h1v1h-1zM502 278h2v1h-2zM510 278h1v1h-1zM517 278h3v1h-3zM521 278h1v1h-1zM539 278h2v1h-2zM545 278h2v1h-2zM60 279h1v1h-1zM65 279h1v1h-1zM78 279h2v1h-2zM113 279h1v1h-1zM125 279h3v1h-3zM130 279h4v1h-4zM147 279h3v1h-3zM154 279h1v1h-1zM160 279h2v1h-2zM204 279h1v1h-1zM206 279h1v1h-1zM215 279h2v1h-2zM219 279h2v1h-2zM265 279h1v1h-1zM271 279h2v1h-2zM290 279h1v1h-1zM399 279h1v1h-1zM407 279h1v1h-1zM489 279h1v1h-1zM501 279h2v1h-2zM504 279h2v1h-2zM509 279h1v1h-1zM521 279h1v1h-1zM540 279h8v1h-8zM60 280h1v1h-1zM64 280h1v1h-1zM79 280h1v1h-1zM91 280h1v1h-1zM127 280h6v1h-6zM134 280h1v1h-1zM155 280h6v1h-6zM204 280h1v1h-1zM221 280h2v1h-2zM266 280h1v1h-1zM270 280h1v1h-1zM289 280h1v1h-1zM388 280h1v1h-1zM402 280h1v1h-1zM489 280h1v1h-1zM500 280h1v1h-1zM505 280h2v1h-2zM508 280h1v1h-1zM61 281h1v1h-1zM64 281h1v1h-1zM92 281h1v1h-1zM114 281h1v1h-1zM135 281h1v1h-1zM205 281h1v1h-1zM222 281h2v1h-2zM266 281h1v1h-1zM270 281h1v1h-1zM272 281h1v1h-1zM388 281h1v1h-1zM403 281h1v1h-1zM406 281h1v1h-1zM499 281h2v1h-2zM507 281h2v1h-2zM62 282h1v1h-1zM64 282h1v1h-1zM80 282h1v1h-1zM111 282h1v1h-1zM137 282h1v1h-1zM223 282h2v1h-2zM267 282h3v1h-3zM289 282h1v1h-1zM403 282h1v1h-1zM490 282h1v1h-1zM495 282h5v1h-5zM62 283h2v1h-2zM80 283h1v1h-1zM125 283h1v1h-1zM135 283h1v1h-1zM205 283h1v1h-1zM269 283h1v1h-1zM273 283h1v1h-1zM389 283h1v1h-1zM398 283h1v1h-1zM404 283h1v1h-1zM406 283h1v1h-1zM491 283h1v1h-1zM493 283h2v1h-2zM81 284h1v1h-1zM91 284h1v1h-1zM114 284h1v1h-1zM136 284h1v1h-1zM273 284h1v1h-1zM288 284h1v1h-1zM389 284h2v1h-2zM491 284h3v1h-3zM63 285h1v1h-1zM92 285h1v1h-1zM136 285h1v1h-1zM288 285h1v1h-1zM404 285h2v1h-2zM81 286h1v1h-1zM92 286h1v1h-1zM111 286h1v1h-1zM114 286h1v1h-1zM274 286h1v1h-1zM390 286h1v1h-1zM398 286h1v1h-1zM405 286h1v1h-1zM93 287h1v1h-1zM125 287h1v1h-1zM137 287h1v1h-1zM274 287h1v1h-1zM287 287h1v1h-1zM391 287h1v1h-1zM82 288h1v1h-1zM91 288h1v1h-1zM93 288h1v1h-1zM115 288h1v1h-1zM287 288h1v1h-1zM391 288h1v1h-1zM82 289h1v1h-1zM90 289h1v1h-1zM274 289h1v1h-1zM392 289h1v1h-1zM83 290h1v1h-1zM89 290h2v1h-2zM94 290h1v1h-1zM115 290h1v1h-1zM275 290h1v1h-1zM286 290h1v1h-1zM392 290h2v1h-2zM397 290h1v1h-1zM88 291h1v1h-1zM111 291h1v1h-1zM124 291h1v1h-1zM275 291h1v1h-1zM393 291h1v1h-1zM396 291h2v1h-2zM83 292h1v1h-1zM88 292h1v1h-1zM95 292h1v1h-1zM116 292h1v1h-1zM124 292h1v1h-1zM276 292h1v1h-1zM286 292h1v1h-1zM394 292h3v1h-3zM84 293h4v1h-4zM95 293h1v1h-1zM123 293h1v1h-1zM276 293h1v1h-1zM280 293h1v1h-1zM285 293h1v1h-1zM96 294h1v1h-1zM116 294h3v1h-3zM123 294h1v1h-1zM277 294h1v1h-1zM280 294h2v1h-2zM285 294h1v1h-1zM395 294h1v1h-1zM97 295h1v1h-1zM99 295h2v1h-2zM111 295h1v1h-1zM119 295h1v1h-1zM122 295h1v1h-1zM279 295h1v1h-1zM284 295h1v1h-1zM98 296h2v1h-2zM101 296h1v1h-1zM121 296h1v1h-1zM277 296h2v1h-2zM281 296h2v1h-2zM284 296h1v1h-1zM101 297h2v1h-2zM119 297h4v1h-4zM278 297h1v1h-1zM282 297h2v1h-2zM102 298h1v1h-1zM110 298h1v1h-1zM119 298h2v1h-2zM283 298h1v1h-1zM103 299h1v1h-1zM103 300h1v1h-1zM104 301h1v1h-1zM110 301h1v1h-1zM105 302h1v1h-1zM105 303h1v1h-1zM108 303h3v1h-3zM106 304h4v1h-4zM106 305h1v1h-1z"/>
</g>
<g fill="#ff0000"><rect x="169" y="284" width="1" height="1"/><rect x="173" y="299" width="1" height="1"/><rect x="170" y="362" width="1" height="1"/><rect x="173" y="377" width="1" height="1"/><rect x="170" y="384" width="1" height="1"/><rect x="170" y="388" width="1" height="1"/><rect x="171" y="391" width="1" height="1"/><rect x="172" y="394" width="1" height="1"/></g>
<path d="M295.5 472.5L301.5 461.5M19.5 216.5L27.5 221.5" stroke="#000" stroke-width="1" shape-rendering="crispEdges"/>
<g font-family="Liberation Sans, sans-serif" fill="#000"><text x="157.44" y="20.00" font-size="14.33" textLength="32.58" lengthAdjust="spacingAndGlyphs">GOES</text><text x="195.45" y="20.00" font-size="14.33" textLength="70.95" lengthAdjust="spacingAndGlyphs">0.1—0.8nm</text><text x="270.54" y="20.00" font-size="14.33" textLength="36.83" lengthAdjust="spacingAndGlyphs">(red),</text><text x="311.56" y="20.00" font-size="14.33" textLength="28.96" lengthAdjust="spacingAndGlyphs">LYRA</text><text x="343.58" y="20.00" font-size="14.33" textLength="12.74" lengthAdjust="spacingAndGlyphs">Al</text><text x="364.09" y="20.00" font-size="14.33" textLength="37.32" lengthAdjust="spacingAndGlyphs">(blue)</text><text x="406.57" y="20.00" font-size="14.33" textLength="9.56" lengthAdjust="spacingAndGlyphs">&amp;</text><text x="423.03" y="20.00" font-size="14.33" textLength="13.72" lengthAdjust="spacingAndGlyphs">Zr</text><text x="442.61" y="20.00" font-size="14.33" textLength="37.29" lengthAdjust="spacingAndGlyphs">(grey)</text><text x="485.63" y="20.00" font-size="14.33" textLength="33.39" lengthAdjust="spacingAndGlyphs">proxy</text><text x="49.20" y="458.00" font-size="10.03" textLength="5.58" lengthAdjust="spacingAndGlyphs">0</text><text x="168.38" y="458.00" font-size="10.17" textLength="5.66" lengthAdjust="spacingAndGlyphs">5</text><text x="284.98" y="458.00" font-size="10.03" textLength="11.15" lengthAdjust="spacingAndGlyphs">10</text><text x="404.42" y="458.00" font-size="10.17" textLength="11.32" lengthAdjust="spacingAndGlyphs">15</text><text x="523.36" y="458.00" font-size="10.03" textLength="11.15" lengthAdjust="spacingAndGlyphs">20</text><text x="268.16" y="470.00" font-size="10.03" textLength="21.91" lengthAdjust="spacingAndGlyphs">Time</text><text x="307.02" y="470.00" font-size="10.03" textLength="6.19" lengthAdjust="spacingAndGlyphs">h</text><text x="317.85" y="470.00" font-size="10.03" textLength="22.51" lengthAdjust="spacingAndGlyphs">UTC,</text><text x="345.89" y="470.00" font-size="10.03" textLength="11.85" lengthAdjust="spacingAndGlyphs">12</text><text x="363.08" y="470.00" font-size="10.03" textLength="13.25" lengthAdjust="spacingAndGlyphs">Apr</text><text x="383.65" y="470.00" font-size="10.03" textLength="24.42" lengthAdjust="spacingAndGlyphs">2025</text><text x="488.11" y="495.00" font-size="11.46" textLength="55.67" lengthAdjust="spacingAndGlyphs">ROB/SIDC,</text><text x="548.70" y="495.00" font-size="11.46" textLength="44.98" lengthAdjust="spacingAndGlyphs">Brussels,</text><text x="600.64" y="495.00" font-size="11.46" textLength="42.11" lengthAdjust="spacingAndGlyphs">Belgium</text><text x="631.81" y="80.00" font-size="11.63" textLength="5.36" lengthAdjust="spacingAndGlyphs">X</text><text x="631.26" y="185.00" font-size="11.63" textLength="7.48" lengthAdjust="spacingAndGlyphs">M</text><text x="631.53" y="290.00" font-size="11.46" textLength="6.83" lengthAdjust="spacingAndGlyphs">C</text><text x="631.08" y="395.00" font-size="11.63" textLength="7.52" lengthAdjust="spacingAndGlyphs">B</text><text x="33.39" y="30.00" font-size="8.60" textLength="8.92" lengthAdjust="spacingAndGlyphs" stroke="#000" stroke-width="0.3">10</text><text x="43.32" y="26.00" font-size="5.73" textLength="6.53" lengthAdjust="spacingAndGlyphs" stroke="#000" stroke-width="0.3">−3</text><text x="33.39" y="133.00" font-size="8.60" textLength="8.92" lengthAdjust="spacingAndGlyphs" stroke="#000" stroke-width="0.3">10</text><text x="43.23" y="129.00" font-size="5.81" textLength="6.63" lengthAdjust="spacingAndGlyphs" stroke="#000" stroke-width="0.3">−4</text><text x="33.39" y="238.00" font-size="8.60" textLength="8.92" lengthAdjust="spacingAndGlyphs" stroke="#000" stroke-width="0.3">10</text><text x="43.26" y="234.00" font-size="5.81" textLength="6.63" lengthAdjust="spacingAndGlyphs" stroke="#000" stroke-width="0.3">−5</text><text x="33.39" y="343.00" font-size="8.60" textLength="8.92" lengthAdjust="spacingAndGlyphs" stroke="#000" stroke-width="0.3">10</text><text x="43.32" y="339.00" font-size="5.73" textLength="6.53" lengthAdjust="spacingAndGlyphs" stroke="#000" stroke-width="0.3">−6</text><text x="33.39" y="445.00" font-size="8.60" textLength="8.92" lengthAdjust="spacingAndGlyphs" stroke="#000" stroke-width="0.3">10</text><text x="43.29" y="441.00" font-size="5.81" textLength="6.63" lengthAdjust="spacingAndGlyphs" stroke="#000" stroke-width="0.3">−7</text><g transform="translate(27,0) rotate(-90)" stroke="#000" stroke-width="0.3"><text x="-289.56" y="0.00" font-size="10.03" textLength="20.89" lengthAdjust="spacingAndGlyphs">GOES</text><text x="-265.31" y="0.00" font-size="10.03" textLength="39.31" lengthAdjust="spacingAndGlyphs">Irradiance</text><text x="-211.90" y="0.00" font-size="10.03" textLength="10.22" lengthAdjust="spacingAndGlyphs">(W</text><text x="-198.29" y="0.00" font-size="10.03" textLength="6.17" lengthAdjust="spacingAndGlyphs">m</text><text x="-190.94" y="-4.60" font-size="6.59" textLength="7.78" lengthAdjust="spacingAndGlyphs">−2</text><text x="-183.56" y="0.00" font-size="10.03" textLength="3.41" lengthAdjust="spacingAndGlyphs">)</text></g></g>
</svg></body></html>
